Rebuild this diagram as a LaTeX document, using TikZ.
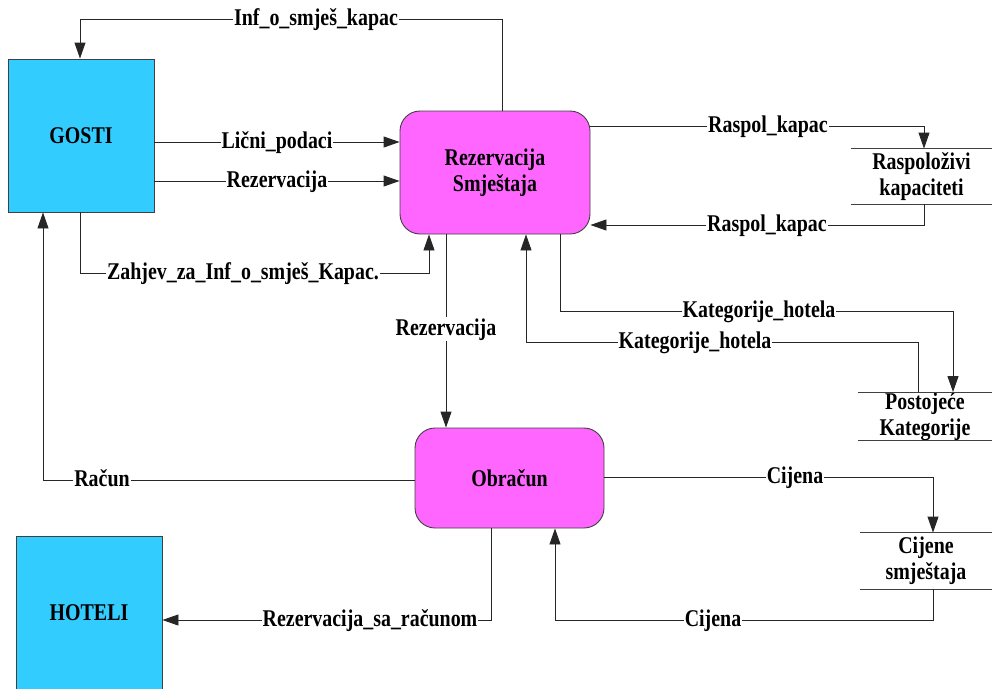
\documentclass[tikz,border=0pt]{standalone}
\usepackage{fontspec}
\setmainfont{Liberation Serif}[FakeStretch=0.83]
\usetikzlibrary{arrows.meta}
\definecolor{entblue}{HTML}{33CCFF}
\definecolor{procpink}{HTML}{FF66FF}
\definecolor{edgegray}{HTML}{404040}
\begin{document}
\begin{tikzpicture}[x=1pt,y=-1pt,
  font=\fontsize{24}{26}\selectfont\bfseries,
  line width=0.9pt,
  ent/.style={draw=edgegray, fill=entblue, minimum width=146pt, minimum height=153pt, inner sep=0pt},
  proc/.style={draw=edgegray, fill=procpink, rounded corners=20pt, align=center, inner sep=0pt},
  store/.style={align=center, inner sep=0pt},
  lbl/.style={fill=white, inner sep=1pt, text height=17pt, text depth=5pt},
  arr/.style={-{Triangle[length=16pt,width=11pt]}},
  flow/.style={draw=black!85}
]
\useasboundingbox (0,0) rectangle (992,688);

% entities
\node[ent] (gosti) at (81,135.5) {GOSTI};
\node[ent] (hot) at (89,612.5) {HOTELI};

% processes
\node[proc, minimum width=190pt, minimum height=123pt] (rez) at (495,172.5) {Rezervacija\\Smještaja};
\node[proc, minimum width=189pt, minimum height=100pt] (obr) at (509.5,478) {Obračun};

% stores
\node[store, minimum width=141pt, minimum height=55pt] (rk) at (921.5,176.5) {Raspoloživi\\kapaciteti};
\node[store, minimum width=134pt, minimum height=47pt] (pk) at (925,416.5) {Postojeće\\Kategorije};
\node[store, minimum width=132pt, minimum height=56pt] (cs) at (926,561) {Cijene\\smještaja};
\foreach \s in {rk,pk,cs}{
  \draw[draw=edgegray] (\s.north west) -- (\s.north east);
  \draw[draw=edgegray] (\s.south west) -- (\s.south east);
}

% flows
\draw[flow,arr] (502,0 |- rez.north) -- (502,19) -- (80,19) -- (80,0 |- gosti.north);
\draw[flow,arr] (gosti.east |- 0,142) -- (rez.west |- 0,142);
\draw[flow,arr] (gosti.east |- 0,181) -- (rez.west |- 0,181);
\draw[flow,arr] (80,0 |- gosti.south) -- (80,273) -- (429,273) -- (429,0 |- rez.south);
\draw[flow,arr] (rez.east |- 0,126) -- (924,126) -- (924,0 |- rk.north);
\draw[flow,arr] (924,0 |- rk.south) -- (924,225) -- (rez.east |- 0,225);
\draw[flow,arr] (560,0 |- rez.south) -- (560,311) -- (953,311) -- (953,0 |- pk.north);
\draw[flow,arr] (918,0 |- pk.north) -- (918,342) -- (526,342) -- (526,0 |- rez.south);
\draw[flow,arr] (446,0 |- rez.south) -- (446,0 |- obr.north);
\draw[flow,arr] (obr.west |- 0,480) -- (43,480) -- (43,0 |- gosti.south);
\draw[flow,arr] (491,0 |- obr.south) -- (491,620) -- (hot.east |- 0,620);
\draw[flow,arr] (obr.east |- 0,477) -- (933,477) -- (933,0 |- cs.north);
\draw[flow,arr] (933,0 |- cs.south) -- (933,620) -- (555,620) -- (555,0 |- obr.south);

% labels
\node[lbl] (l1) at (316,19) {Inf\_o\_smješ\_kapac};
\node[lbl] (l2) at (277,142) {Lični\_podaci};
\node[lbl] (l3) at (277,181) {Rezervacija};
\node[lbl] (l4) at (243,273) {Zahjev\_za\_Inf\_o\_smješ\_Kapac.};
\node[lbl] (l5) at (768,126) {Raspol\_kapac};
\node[lbl] (l6) at (767,225) {Raspol\_kapac};
\node[lbl] (l7) at (759,311) {Kategorije\_hotela};
\node[lbl] (l8) at (695,342) {Kategorije\_hotela};
\node[lbl] (l9) at (446,329) {Rezervacija};
\node[lbl] (l10) at (102,480) {Račun};
\node[lbl] (l11) at (370,620) {Rezervacija\_sa\_računom};
\node[lbl] (l12) at (795,477) {Cijena};
\node[lbl] (l13) at (713,620) {Cijena};
\end{tikzpicture}
\end{document}
